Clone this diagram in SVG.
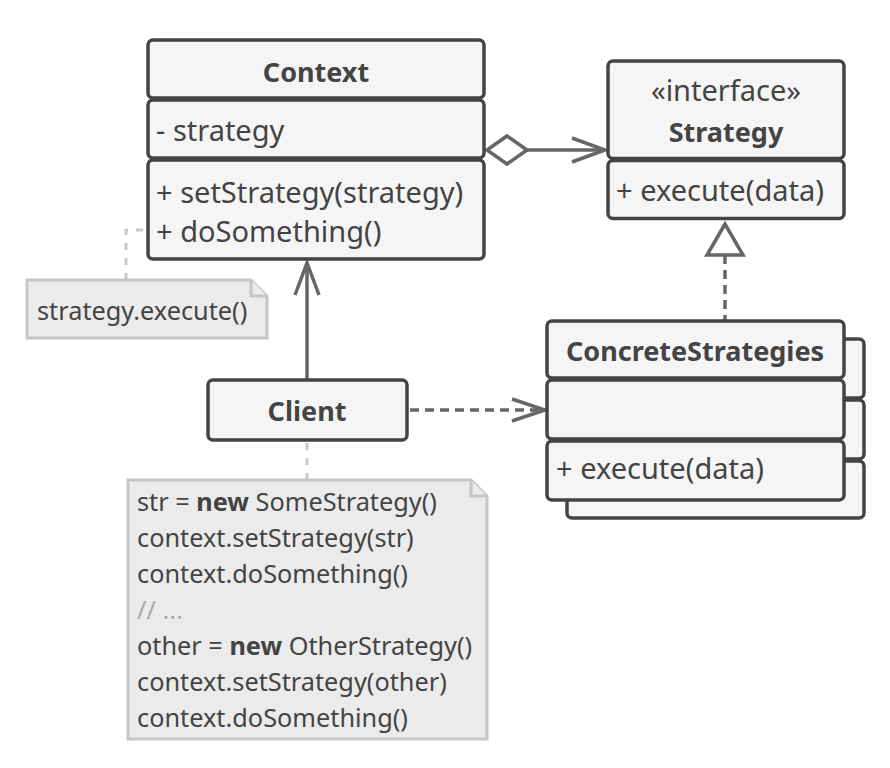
<svg xmlns="http://www.w3.org/2000/svg" width="890" height="768" viewBox="0 0 890 768">
<style>
.box{fill:#f5f5f5;stroke:#444;stroke-width:3.5}
.t{font-family:"Noto Sans","Open Sans",sans-serif;fill:#444;font-size:29px}
.b{font-weight:bold;font-size:27px}
.c{text-anchor:middle}
.note{fill:#ebebeb;stroke:#c6c6c6;stroke-width:3}
.nt{font-family:"Noto Sans","Open Sans",sans-serif;fill:#444;font-size:25.3px}
.ln{fill:none;stroke:#666;stroke-width:3.5}
.dash{stroke-dasharray:9 6}
.dot{fill:none;stroke:#c8c8c8;stroke-width:3;stroke-dasharray:7 8}
</style>
<rect width="890" height="768" fill="#fff"/>
<g id="connectors">
<path class="dot" d="M126,280 V230 H147"/>
<path class="dot" d="M307,443 V480"/>
<polygon class="ln" points="487,150 507,136 527,150 507,164" style="fill:#fff"/>
<line class="ln" x1="527" y1="150" x2="604" y2="150"/>
<polyline class="ln" points="572,138 605,150 572,162"/>
<line class="ln dash" x1="725" y1="255" x2="725" y2="320"/>
<polygon class="ln" points="725,224 707,255 743,255" style="fill:#fff"/>
<line class="ln" x1="307" y1="379" x2="307" y2="264"/>
<polyline class="ln" points="295,295 307,263 319,295"/>
<line class="ln dash" x1="410" y1="410" x2="543" y2="410"/>
<polyline class="ln" points="512,399 545,410 512,421"/>
</g>
<g id="context">
<rect class="box" x="148" y="40" width="336" height="58" rx="5"/>
<rect class="box" x="148" y="100" width="336" height="58" rx="5"/>
<rect class="box" x="148" y="160" width="336" height="99" rx="5"/>
<text class="t b c" x="316" y="82">Context</text>
<text class="t" x="156" y="141">- strategy</text>
<text class="t" x="156" y="203">+ setStrategy(strategy)</text>
<text class="t" x="156" y="242">+ doSomething()</text>
</g>
<g id="strategy">
<rect class="box" x="608" y="61" width="236" height="97.5" rx="5"/>
<rect class="box" x="608" y="160.5" width="236" height="58" rx="5"/>
<text class="t c" x="726" y="101">«interface»</text>
<text class="t b c" x="726" y="142">Strategy</text>
<text class="t" x="616" y="201">+ execute(data)</text>
</g>
<g id="concrete-strategies">
<rect class="box" x="567" y="339" width="297" height="59" rx="5"/>
<rect class="box" x="567" y="400" width="297" height="59" rx="5"/>
<rect class="box" x="567" y="461" width="297" height="57" rx="5"/>
<rect class="box" x="547" y="321" width="297" height="57" rx="5"/>
<rect class="box" x="547" y="380" width="297" height="59" rx="5"/>
<rect class="box" x="547" y="441" width="297" height="59" rx="5"/>
<text class="t b c" x="695" y="361">ConcreteStrategies</text>
<text class="t" x="556" y="479">+ execute(data)</text>
</g>
<g id="client">
<rect class="box" x="208" y="380" width="199" height="60" rx="5"/>
<text class="t b c" x="307" y="421">Client</text>
</g>
<g id="note-context">
<path class="note" d="M27,280 H251 L267,296 V338 H27 Z"/>
<path class="note" d="M251,280 V296 H267"/>
<text class="nt" x="37" y="320">strategy.execute()</text>
</g>
<g id="note-client">
<path class="note" d="M128,480 H471 L487,496 V739 H128 Z"/>
<path class="note" d="M471,480 V496 H487"/>
<text class="nt" x="137" y="511">str = <tspan font-weight="bold">new</tspan> SomeStrategy()</text>
<text class="nt" x="137" y="547">context.setStrategy(str)</text>
<text class="nt" x="137" y="583">context.doSomething()</text>
<text class="nt" x="137" y="619" style="fill:#aaa">// ...</text>
<text class="nt" x="137" y="655">other = <tspan font-weight="bold">new</tspan> OtherStrategy()</text>
<text class="nt" x="137" y="691">context.setStrategy(other)</text>
<text class="nt" x="137" y="727">context.doSomething()</text>
</g>
</svg>
